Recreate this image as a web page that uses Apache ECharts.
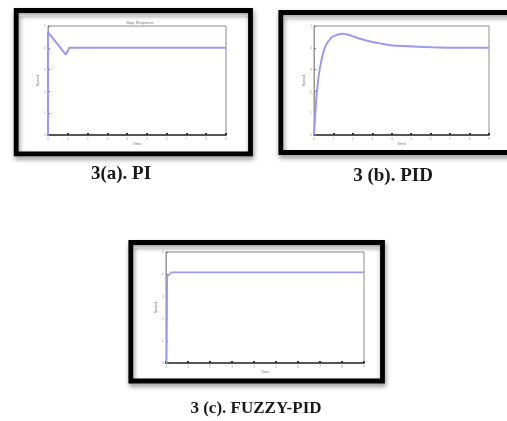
<!DOCTYPE html>
<html>
<head>
<meta charset="utf-8">
<script src="https://cdn.jsdelivr.net/npm/echarts@6/dist/echarts.min.js"></script>
<style>
html,body{margin:0;padding:0;background:#fff;}
#chart{width:507px;height:421px;}
</style>
</head>
<body>
<div id="chart"></div>
<script>
// ---- data ----
var xTicks = [0, 1, 2, 3, 4, 5, 6, 7, 8, 9];
var yTicks = [0, 1, 2, 3, 4, 5];
var piResponse = [[0, 0], [0, 4.72], [0.9, 3.69], [1.08, 4.0], [9, 4.0]];
var pidResponse = [[0, 0], [0.05, 0.7], [0.1, 1.4], [0.15, 2.0], [0.29, 3.0], [0.55, 4.0], [0.9, 4.48], [1.2, 4.6], [1.5, 4.64], [1.9, 4.56], [2.45, 4.39], [3.0, 4.27], [3.5, 4.19], [4.1, 4.1], [5.1, 4.06], [6.1, 4.02], [7, 4.0], [9, 4.0]];
var fuzzyResponse = [[0.03, 0], [0.06, 3.9], [0.25, 4.08], [9, 4.08]];
var captions = ['3(a). PI', '3 (b). PID', '3 (c). FUZZY-PID'];
var plotTitles = ['Step Response', '', ''];
var xNames = ['Time', 'Time', 'Time'];
var yNames = ['Speed', 'Speed', 'Speed'];

var chart = echarts.init(document.getElementById('chart'), null, {renderer: 'canvas'});

var grids = [
  {left: 48, top: 26, width: 178, height: 109},
  {left: 314, top: 26, width: 175, height: 109},
  {left: 166, top: 252, width: 198, height: 111}
];
var lineColor = '#9a9af2';

function xAxis(i) {
  return {
    type: 'value', gridIndex: i, min: xTicks[0], max: xTicks[xTicks.length - 1], interval: 1,
    name: xNames[i], nameLocation: 'middle', nameGap: 6,
    nameTextStyle: {fontSize: 4, color: '#777'},
    axisLine: {show: true, lineStyle: {color: '#555', width: 2}},
    axisTick: {show: true, inside: true, length: 2, lineStyle: {color: '#333', width: 2}},
    axisLabel: {show: true, fontSize: 4, color: '#aaa', margin: 2},
    splitLine: {show: false}
  };
}
function yAxis(i) {
  return {
    type: 'value', gridIndex: i, min: yTicks[0], max: yTicks[yTicks.length - 1], interval: 1,
    name: yNames[i], nameLocation: 'middle', nameGap: 8, nameRotate: 90,
    nameTextStyle: {fontSize: 4, color: '#777'},
    axisLine: {show: true, lineStyle: {color: '#999', width: 1}},
    axisTick: {show: true, inside: true, length: 2, lineStyle: {color: '#777'}},
    axisLabel: {show: true, fontSize: 4, color: '#aaa', margin: 2},
    splitLine: {show: false}
  };
}

var frames = [
  {x: 16.2, y: 10.5, w: 234.3, h: 143.3},
  {x: 280.8, y: 12.5, w: 240, h: 140},
  {x: 130.8, y: 242.5, w: 251.7, h: 138.5}
];
var capPos = [
  {x: 121, y: 174, size: 19},
  {x: 393, y: 176, size: 19},
  {x: 256, y: 409, size: 17}
];

var graphic = [];
frames.forEach(function (f) {
  graphic.push({
    type: 'rect',
    shape: {x: f.x, y: f.y, width: f.w, height: f.h},
    style: {fill: null, stroke: '#000', lineWidth: 4.8,
      shadowBlur: 5, shadowOffsetX: 1, shadowOffsetY: 3, shadowColor: 'rgba(0,0,0,0.45)'}
  });
  graphic.push({
    type: 'line',
    shape: {x1: f.x + 3, y1: f.y + 5, x2: f.x + f.w - 3, y2: f.y + 5},
    style: {stroke: '#d4d4d4', lineWidth: 1.5}
  });
});
captions.forEach(function (c, i) {
  graphic.push({
    type: 'text', x: capPos[i].x, y: capPos[i].y,
    style: {text: c, fill: '#1a1a1a', font: 'bold ' + capPos[i].size + 'px "Liberation Serif", "DejaVu Serif", serif',
      textAlign: 'center', textVerticalAlign: 'middle'}
  });
});
if (plotTitles[0]) {
  graphic.push({
    type: 'text', x: 140, y: 23,
    style: {text: plotTitles[0], fill: '#777', font: '4px sans-serif', textAlign: 'center', textVerticalAlign: 'middle'}
  });
}

var option = {
  backgroundColor: '#fff',
  animation: false,
  graphic: graphic,
  grid: grids.map(function (g) {
    return {left: g.left, top: g.top, width: g.width, height: g.height, show: true,
      borderColor: '#8c8c8c', borderWidth: 1};
  }),
  xAxis: [xAxis(0), xAxis(1), xAxis(2)],
  yAxis: [yAxis(0), yAxis(1), yAxis(2)],
  series: [
    {type: 'line', xAxisIndex: 0, yAxisIndex: 0, data: piResponse, showSymbol: false,
      lineStyle: {color: lineColor, width: 2}},
    {type: 'line', xAxisIndex: 1, yAxisIndex: 1, data: pidResponse, showSymbol: false, smooth: 0.25,
      lineStyle: {color: lineColor, width: 2}},
    {type: 'line', xAxisIndex: 2, yAxisIndex: 2, data: fuzzyResponse, showSymbol: false,
      lineStyle: {color: lineColor, width: 1.6}}
  ]
};
chart.setOption(option);
</script>
</body>
</html>
